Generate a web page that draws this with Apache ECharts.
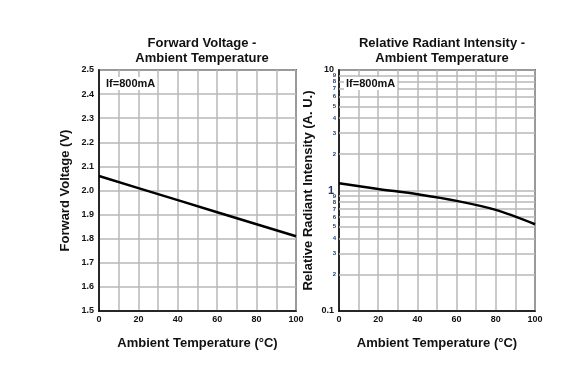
<!DOCTYPE html>
<html><head><meta charset="utf-8">
<script src="https://cdn.jsdelivr.net/npm/echarts@6/dist/echarts.min.js"></script>
<style>html,body{margin:0;padding:0;background:#fff}#c{width:575px;height:378px}</style>
</head><body><div id="c"></div>
<script>
var temps = [0, 20, 40, 60, 80, 100];
var forwardVoltage = [2.06, 2.01, 1.96, 1.91, 1.86, 1.81];
var radiantIntensity = [1.15, 1.03, 0.93, 0.82, 0.69, 0.525];
var minorLogValues = [0.2,0.3,0.4,0.5,0.6,0.7,0.8,0.9,2,3,4,5,6,7,8,9];
var minorLogLabels = ['2','3','4','5','6','7','8','9','2','3','4','5','6','7','8','9'];
var titles = ['Forward Voltage -\nAmbient Temperature', 'Relative Radiant Intensity -\nAmbient Temperature'];
var yNames = ['Forward Voltage (V)', 'Relative Radiant Intensity (A. U.)'];
var xName = 'Ambient Temperature (\u00b0C)';
var condition = 'If=800mA';

var FONT = 'Liberation Sans, Arial, sans-serif';
var gridColor = '#b8b8b8';
var chart = echarts.init(document.getElementById('c'));

function pairs(xs, ys){ return xs.map(function(x,i){return [x, ys[i]];}); }

var xAxisCommon = {
  type: 'value', min: 0, max: 100, interval: 10,
  name: xName, nameLocation: 'middle', nameGap: 26,
  nameTextStyle: {fontFamily: FONT, fontWeight: 'bold', fontSize: 13, color: '#111'},
  axisLine: {show: true, lineStyle: {color: '#000', width: 1.5}},
  axisTick: {show: false},
  axisLabel: {fontFamily: FONT, fontWeight: 'bold', fontSize: 9, color: '#111', margin: 4,
    formatter: function(v){ return v % 20 === 0 ? String(v) : ''; }},
  splitLine: {show: true, lineStyle: {color: gridColor, width: 1.5}}
};

var option = {
  animation: false,
  title: [
    {text: titles[0], left: 197, top: 31, textAlign: 'center',
     textStyle: {fontFamily: FONT, fontWeight: 'bold', fontSize: 13, color: '#111', lineHeight: 15}},
    {text: titles[1], left: 437, top: 31, textAlign: 'center',
     textStyle: {fontFamily: FONT, fontWeight: 'bold', fontSize: 13, color: '#111', lineHeight: 15}}
  ],
  grid: [
    {left: 99, top: 70, width: 197, height: 241, show: true, borderColor: '#000', borderWidth: 1.5, backgroundColor: 'transparent'},
    {left: 339, top: 70, width: 196, height: 241, show: true, borderColor: '#000', borderWidth: 1.5, backgroundColor: 'transparent'}
  ],
  xAxis: [
    Object.assign({gridIndex: 0}, xAxisCommon),
    Object.assign({gridIndex: 1}, xAxisCommon)
  ],
  yAxis: [
    {gridIndex: 0, type: 'value', min: 1.5, max: 2.5, interval: 0.1,
     name: yNames[0], nameLocation: 'middle', nameGap: 27,
     nameTextStyle: {fontFamily: FONT, fontWeight: 'bold', fontSize: 13, color: '#111'},
     axisLine: {show: true, lineStyle: {color: '#000', width: 1.5}},
     axisTick: {show: false},
     axisLabel: {fontFamily: FONT, fontWeight: 'bold', fontSize: 9, color: '#111', margin: 5,
       formatter: function(v){ return v.toFixed(1); }},
     splitLine: {show: true, lineStyle: {color: gridColor, width: 1.5}}},
    {gridIndex: 1, type: 'log', logBase: 10, min: 0.1, max: 10, splitNumber: 2,
     name: yNames[1], nameLocation: 'middle', nameGap: 24,
     nameTextStyle: {fontFamily: FONT, fontWeight: 'bold', fontSize: 13, color: '#111'},
     axisLine: {show: true, lineStyle: {color: '#000', width: 1.5}},
     axisTick: {show: false},
     axisLabel: {fontFamily: FONT, fontWeight: 'bold', fontSize: 9, color: '#111', margin: 5,
       formatter: function(v){ return v === 1 ? '{b|1}' : String(v); },
       rich: {b: {fontFamily: FONT, fontWeight: 'bold', fontSize: 11, color: '#1a3a7a'}}},
     splitLine: {show: true, lineStyle: {color: gridColor, width: 1.5}}}
  ],
  series: [
    {type: 'line', xAxisIndex: 0, yAxisIndex: 0, data: pairs(temps, forwardVoltage),
     symbol: 'none', lineStyle: {color: '#000', width: 2.5}, z: 5},
    {type: 'line', xAxisIndex: 1, yAxisIndex: 1, data: pairs(temps, radiantIntensity),
     symbol: 'none', smooth: 0.3, lineStyle: {color: '#000', width: 2.5}, z: 5,
     markLine: {silent: true, symbol: 'none', animation: false,
       lineStyle: {color: gridColor, width: 1.5, type: 'solid'},
       label: {show: true, position: 'start', distance: 3,
         fontFamily: FONT, fontWeight: 'bold', fontSize: 6, color: '#1a3a7a',
         formatter: function(p){ return minorLogLabels[p.dataIndex]; }},
       data: minorLogValues.map(function(v){ return {yAxis: v}; })}}
  ],
  graphic: [
    {type: 'text', left: 104, top: 77, z: 10,
     style: {text: condition, font: 'bold 11px ' + FONT, fill: '#111',
       backgroundColor: '#fff', padding: [1, 2]}},
    {type: 'text', left: 344, top: 77, z: 10,
     style: {text: condition, font: 'bold 11px ' + FONT, fill: '#111',
       backgroundColor: '#fff', padding: [1, 2]}}
  ]
};
chart.setOption(option);
</script></body></html>
